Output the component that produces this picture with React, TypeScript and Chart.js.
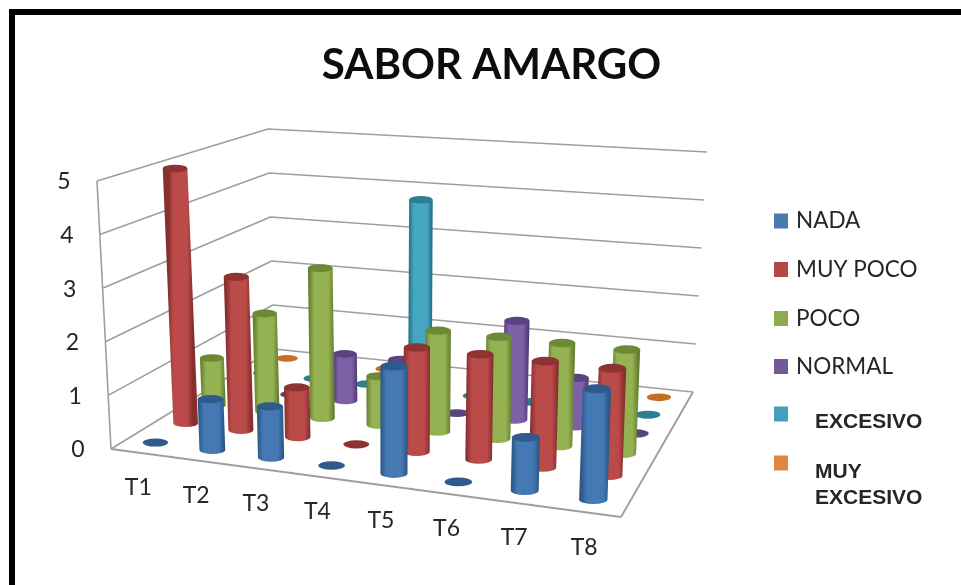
import React, { useEffect, useRef } from "react";
import { Chart, registerables } from "chart.js";

Chart.register(...registerables);

const categories = ["T1", "T2", "T3", "T4", "T5", "T6", "T7", "T8"];
const valueTicks = [0, 1, 2, 3, 4, 5];
const nada = [0, 1, 1, 0, 2, 0, 1, 2];
const muyPoco = [5, 3, 1, 0, 2, 2, 2, 2];
const poco = [1, 2, 3, 1, 2, 2, 2, 2];
const normal = [0, 0, 1, 1, 0, 2, 1, 0];
const excesivo = [0, 0, 0, 4, 0, 0, 0, 0];
const muyExcesivo = [0, 0, 0, 0, 0, 0, 0, 0];

const seriesNames = ["NADA", "MUY POCO", "POCO", "NORMAL", "EXCESIVO", "MUY EXCESIVO"];
const seriesValues = [nada, muyPoco, poco, normal, excesivo, muyExcesivo];
const palettes = [
  { edge: "#2c5585", mid: "#4479b4", cap: "#2f5b8c", key: "#4a7ab0" },
  { edge: "#862f2e", mid: "#bb4b49", cap: "#8d3332", key: "#b04a48" },
  { edge: "#667f30", mid: "#95b252", cap: "#6c8935", key: "#8fab50" },
  { edge: "#503a77", mid: "#7d60a6", cap: "#5b437f", key: "#725a98" },
  { edge: "#217088", mid: "#46a7c1", cap: "#2a7f95", key: "#459fb8" },
  { edge: "#b0611f", mid: "#e08a3e", cap: "#c46f24", key: "#e0873f" },
];

const W = 961;
const H = 585;
const MAX_VALUE = 5;
const TITLE_SIZE = 42;
const TITLE_PAD_TOP = 40;
const PLOT_LEFT = 22;
const PLOT_TOP = TITLE_PAD_TOP + TITLE_SIZE * 1.2;

type P = { x: number; y: number };
// View of the 3D box: floor corners (front-left, front-right, back-right,
// back-left), then how far the top value plane sits from each of them.
const floorQuad: P[] = [
  { x: 111, y: 449 },
  { x: 621, y: 517 },
  { x: 693, y: 392 },
  { x: 274, y: 349 },
];
const cornerLean = [-14, 10, 14, -6];
const cornerHeight = [268, 290, 240, 220];

function homography(q: P[]) {
  const [p0, p1, p2, p3] = q;
  const dx1 = p1.x - p2.x, dx2 = p3.x - p2.x, sx = p0.x - p1.x + p2.x - p3.x;
  const dy1 = p1.y - p2.y, dy2 = p3.y - p2.y, sy = p0.y - p1.y + p2.y - p3.y;
  const den = dx1 * dy2 - dx2 * dy1;
  const g = (sx * dy2 - dx2 * sy) / den;
  const h = (dx1 * sy - sx * dy1) / den;
  const a = p1.x - p0.x + g * p1.x, b = p3.x - p0.x + h * p3.x;
  const d = p1.y - p0.y + g * p1.y, e = p3.y - p0.y + h * p3.y;
  return (u: number, v: number): P => {
    const w = g * u + h * v + 1;
    return { x: (a * u + b * v + p0.x) / w, y: (d * u + e * v + p0.y) / w };
  };
}
const floorAt = homography(floorQuad);
const bilinear = (c: number[], u: number, v: number) =>
  (c[0] + (c[1] - c[0]) * u) * (1 - v) + (c[3] + (c[2] - c[3]) * u) * v;

function project(u: number, v: number, value: number): P {
  const f = floorAt(u, v), k = value / MAX_VALUE;
  return { x: f.x + bilinear(cornerLean, u, v) * k, y: f.y - bilinear(cornerHeight, u, v) * k };
}
const catU = (i: number) => (i + 0.5) / categories.length;
const serV = (s: number) => (s + 0.5) / seriesNames.length;

const LATO = "Lato, 'Open Sans', sans-serif";
const ARIAL = "'Liberation Sans', Arial, sans-serif";
const INK = "#262626";
const GRID = "#9e9e9e";

const box3d = {
  id: "box3d",
  beforeDatasetsDraw(chart: any) {
    const { ctx, scales } = chart;
    const px = (p: P): P => ({ x: scales.x.getPixelForValue(p.x), y: scales.y.getPixelForValue(p.y) });
    const seg = (a: P, b: P) => {
      const A = px(a), B = px(b);
      ctx.moveTo(A.x, A.y);
      ctx.lineTo(B.x, B.y);
    };
    ctx.save();
    ctx.strokeStyle = GRID;
    ctx.lineWidth = 1.6;
    ctx.beginPath();
    valueTicks.forEach((t) => {
      seg(project(0, 0, t), project(0, 1, t));
      seg(project(0, 1, t), project(1, 1, t));
    });
    seg(project(0, 0, 0), project(0, 0, MAX_VALUE));
    ctx.stroke();
    ctx.lineWidth = 1.9;
    ctx.beginPath();
    seg(project(0, 0, 0), project(1, 0, 0));
    seg(project(1, 0, 0), project(1, 1, 0));
    ctx.stroke();
    ctx.restore();
  },
  afterDatasetDraw(chart: any, args: any) {
    const { ctx } = chart;
    const pal = palettes[args.index];
    ctx.save();
    args.meta.data.forEach((el: any, i: number) => {
      const raw = chart.data.datasets[args.index].data[i];
      const rx = raw.w / 2;
      const ry = rx * 0.32;
      const bottom = Math.max(el.y, el.base);
      const rawTop = Math.min(el.y, el.base);
      const tall = bottom - rawTop > 1;
      const top = tall ? rawTop + ry * 0.7 : rawTop;
      const tx = el.x + raw.tilt / 2;
      const bx = el.x - raw.tilt / 2;
      if (tall) {
        const g = ctx.createLinearGradient(el.x - rx, 0, el.x + rx, 0);
        g.addColorStop(0, pal.edge);
        g.addColorStop(0.22, pal.mid);
        g.addColorStop(0.5, pal.mid);
        g.addColorStop(0.78, pal.mid);
        g.addColorStop(1, pal.edge);
        ctx.fillStyle = g;
        ctx.beginPath();
        ctx.moveTo(tx - rx, top);
        ctx.lineTo(bx - rx, bottom);
        ctx.ellipse(bx, bottom, rx, ry, 0, Math.PI, 0, true);
        ctx.lineTo(tx + rx, top);
        ctx.closePath();
        ctx.fill();
      }
      ctx.fillStyle = pal.cap;
      ctx.beginPath();
      ctx.ellipse(tx, top, rx, ry, 0, 0, Math.PI * 2);
      ctx.fill();
    });
    ctx.restore();
  },
  afterDraw(chart: any) {
    const { ctx, scales } = chart;
    const px = (p: P): P => ({ x: scales.x.getPixelForValue(p.x), y: scales.y.getPixelForValue(p.y) });
    ctx.save();
    ctx.textBaseline = "middle";
    ctx.fillStyle = INK;
    ctx.font = `23px ${LATO}`;
    ctx.textAlign = "center";
    valueTicks.forEach((t) => {
      const p = px(project(0, 0, t));
      ctx.fillText(String(t), p.x - 33, p.y + 1);
    });
    categories.forEach((c, i) => {
      const p = px(project(catU(i), 0, 0));
      ctx.fillText(c, p.x - 1, p.y + 35);
    });
    // Legend
    const keyY = [221, 269.5, 318.5, 366.5, 414, 463];
    ctx.textAlign = "left";
    seriesNames.forEach((name, s) => {
      ctx.fillStyle = palettes[s].key;
      ctx.fillRect(774, keyY[s] - 7.5, 14, 15);
      ctx.fillStyle = INK;
      if (s < 4) {
        ctx.font = `22.5px ${LATO}`;
        ctx.fillText(name, 796, keyY[s]);
      }
    });
    ctx.font = `bold 21px ${ARIAL}`;
    ctx.fillText("EXCESIVO", 815, 422);
    ctx.fillText("MUY", 815, 472);
    ctx.fillText("EXCESIVO", 815, 498);
    ctx.restore();
  },
};

export default function App() {
  const ref = useRef<HTMLCanvasElement | null>(null);
  useEffect(() => {
    const datasets = seriesNames.map((name, s) => ({
      label: name,
      data: seriesValues[s].map((value, i) => {
        const u = catU(i), v = serV(s);
        const b = project(u, v, 0);
        const t = project(u, v, value);
        return {
          x: (b.x + t.x) / 2,
          y: [t.y, b.y],
          tilt: t.x - b.x,
          w: (25.5 + 3.5 * u) * (1 - 0.17 * v),
        };
      }),
      backgroundColor: "rgba(0,0,0,0)",
      borderWidth: 0,
      barThickness: 20,
      grouped: false,
    }));
    const chart = new Chart(ref.current as HTMLCanvasElement, {
      type: "bar",
      data: { datasets } as any,
      plugins: [box3d],
      options: {
        animation: false,
        responsive: false,
        layout: { padding: { left: PLOT_LEFT, top: 0, right: 0, bottom: 0 } },
        plugins: {
          legend: { display: false },
          tooltip: { enabled: false },
          title: {
            display: true,
            text: "SABOR AMARGO",
            color: "#0d0d0d",
            font: { family: LATO, size: TITLE_SIZE, weight: "bold", lineHeight: 1.2 },
            padding: { top: TITLE_PAD_TOP, bottom: 0 },
          },
        },
        scales: {
          x: { type: "linear", display: false, offset: false, min: PLOT_LEFT, max: W },
          y: { type: "linear", display: false, reverse: true, min: PLOT_TOP, max: H },
        },
      } as any,
    });
    return () => chart.destroy();
  }, []);
  return (
    <div style={{ position: "fixed", left: 0, top: 0, width: W, height: H, background: "#fff", overflow: "hidden" }}>
      <canvas ref={ref} width={W} height={H} style={{ position: "absolute", left: 0, top: 0 }} />
      <div style={{ position: "absolute", left: 9, top: 9, right: 0, height: 6, background: "#000" }} />
      <div style={{ position: "absolute", left: 9, top: 9, bottom: 0, width: 6, background: "#000" }} />
    </div>
  );
}
